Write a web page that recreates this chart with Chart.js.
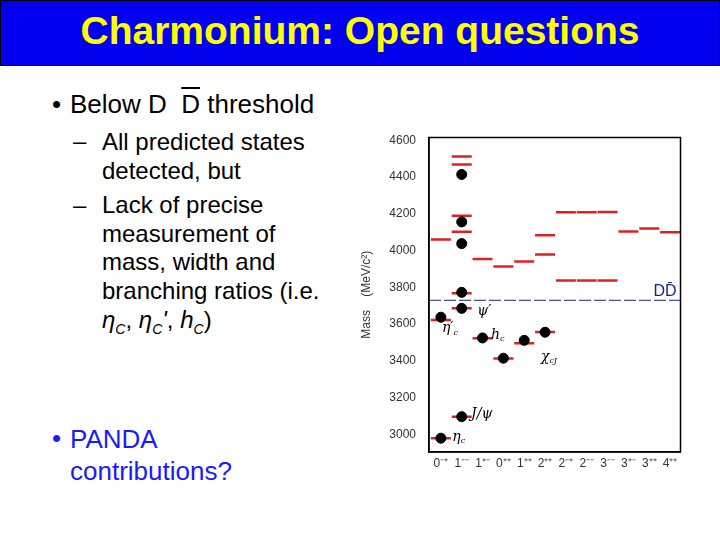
<!DOCTYPE html>
<html><head><meta charset="utf-8">
<script src="https://cdn.jsdelivr.net/npm/chart.js@4"></script>
<style>
body{margin:0;width:720px;height:540px;background:#fff;font-family:"Liberation Sans",Arial,sans-serif;position:relative;overflow:hidden}
#title{position:absolute;left:0;top:0;width:718px;height:64px;background:#0000ee;border:1px solid #000;color:#ffff00;font-weight:bold;font-size:39px;text-align:center;line-height:60px}
.t{position:absolute;white-space:nowrap;color:#000}
.b{font-size:26px}.s{font-size:24px}
.blue{color:#1a1aff}
#wrap{position:absolute;left:355px;top:125px;width:338px;height:350px}
</style></head><body>
<div id="title">Charmonium: Open questions</div>
<div class="t b" style="left:52px;top:89px">•</div>
<div class="t b" style="left:70px;top:89px">Below D&nbsp; <span style="text-decoration:overline">D</span> threshold</div>
<div class="t s" style="left:73px;top:127px">–</div>
<div class="t s" style="left:102px;top:127px;line-height:29px">All predicted states<br>detected, but</div>
<div class="t s" style="left:73px;top:191px">–</div>
<div class="t s" style="left:102px;top:191px;line-height:28.7px">Lack of precise<br>measurement of<br>mass, width and<br>branching ratios (i.e.<br><i>η<sub style="font-size:14px">C</sub></i>, <i>η<sub style="font-size:14px">C</sub>'</i>, <i>h<sub style="font-size:14px">C</sub></i>)</div>
<div class="t b blue" style="left:52px;top:423px">•</div>
<div class="t b blue" style="left:70px;top:423px;line-height:32px">PANDA<br>contributions?</div>
<div id="wrap"><canvas id="c"></canvas></div>
<script>
const categories=["0⁻⁺","1⁻⁻","1⁺⁻","0⁺⁺","1⁺⁺","2⁺⁺","2⁻⁺","2⁻⁻","3⁻⁻","3⁺⁻","3⁺⁺","4⁺⁺"];
const predictedCat=[0,0,0,1,1,1,1,1,1,1,2,2,3,3,4,4,5,5,5,6,6,7,7,8,8,9,10,11];
const predictedMass=[4060,3623,2980,4512,4468,4190,4102,3768,3686,3097,3955,3523,3914,3413,3941,3496,4083,3979,3558,4208,3838,4208,3838,4210,3838,4104,4120,4100];
const measuredCat=[0,0,1,1,1,1,1,1,2,3,4,5];
const measuredMass=[2980,3638,3097,3686,3773,4038,4156,4414,3525,3415,3512,3556];
const ddThreshold=3730;
const yTicks=[3000,3200,3400,3600,3800,4000,4200,4400,4600];
const labels=[{x:0.05,y:3575,m:"η′",s:"c"},{x:1.75,y:3670,m:"ψ′",s:""},{x:2.4,y:3540,m:"h",s:"c"},{x:4.8,y:3420,m:"χ",s:"cJ"},{x:1.45,y:3110,m:"J/ψ",s:""},{x:0.55,y:2985,m:"η",s:"c"}];
const annot={id:'annot',afterDatasetsDraw(ch){const {ctx,scales:{x,y},chartArea:a}=ch;
 ctx.save();ctx.strokeStyle='#000';ctx.lineWidth=1.5;ctx.strokeRect(a.left,a.top,a.right-a.left,a.bottom-a.top);
 ctx.strokeStyle='#1a237e';ctx.lineWidth=1;ctx.setLineDash([12,3]);
 ctx.beginPath();ctx.moveTo(a.left,y.getPixelForValue(ddThreshold));ctx.lineTo(a.right,y.getPixelForValue(ddThreshold));ctx.stroke();ctx.setLineDash([]);
 ctx.fillStyle='#1a237e';ctx.font='16px "Liberation Sans",Arial';ctx.textAlign='right';ctx.textBaseline='bottom';
 ctx.fillText('DD̄',a.right-4,y.getPixelForValue(ddThreshold)-1);
 ctx.fillStyle='#000';ctx.textAlign='left';ctx.textBaseline='middle';
 labels.forEach(l=>{const px=x.getPixelForValue(l.x),py=y.getPixelForValue(l.y);
  ctx.font='italic 14px "DejaVu Serif",serif';ctx.fillText(l.m,px,py);
  const w=ctx.measureText(l.m).width;ctx.font='italic 8px "DejaVu Serif",serif';ctx.fillText(l.s,px+w,py+4);});
 ctx.restore();}};
new Chart(document.getElementById('c'),{type:'scatter',
data:{datasets:[
 {data:measuredCat.map((c,i)=>({x:c,y:measuredMass[i]})),pointStyle:'circle',radius:5,backgroundColor:'#000',borderColor:'#000',order:1},
 {data:predictedCat.map((c,i)=>({x:c,y:predictedMass[i]})),pointStyle:'line',radius:10,borderWidth:2.5,borderColor:'#e02020',backgroundColor:'#e02020',order:2}]},
options:{responsive:true,maintainAspectRatio:false,animation:false,
 layout:{padding:{top:8,right:9,left:0,bottom:0}},
 plugins:{legend:{display:false},tooltip:{enabled:false}},
 scales:{
  x:{type:'linear',min:-0.57,max:11.5,grid:{display:false,drawTicks:false},border:{color:'#000',width:1.5},
   afterBuildTicks:s=>{s.ticks=categories.map((_,i)=>({value:i}));},
   afterFit:s=>{s.height=23;},
   ticks:{callback:v=>categories[v],color:'#333',font:{size:12,family:'"Liberation Sans",Arial'},padding:4,maxRotation:0,autoSkip:false}},
  y:{min:2905,max:4615,grid:{display:false},border:{color:'#000',width:1.5},
   afterBuildTicks:s=>{s.ticks=yTicks.map(v=>({value:v}));},
   afterFit:s=>{s.width=74;},
   ticks:{callback:v=>String(v),color:'#333',font:{size:12,family:'"Liberation Sans",Arial'},padding:5},
   title:{display:true,text:'Mass    (MeV/c²)',color:'#333',font:{size:12,family:'"Liberation Sans",Arial'}}}}},
plugins:[annot]});
</script></body></html>
